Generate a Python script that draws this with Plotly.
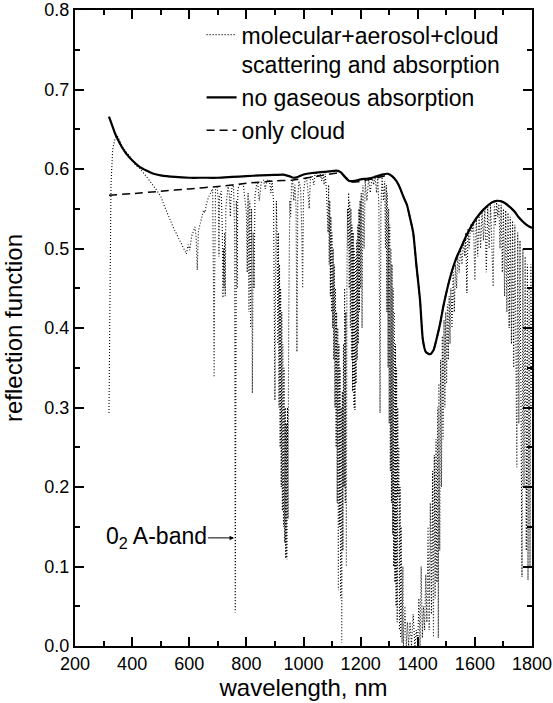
import plotly.graph_objects as go

# ---------------- data ----------------
# "no gaseous absorption" (solid)
wl_nogas = [319, 330, 340, 350, 365, 380, 400, 425, 450, 475, 500, 550, 600, 650, 700, 750, 800,
            850, 900, 930, 950, 965, 980, 1000, 1030, 1060, 1090, 1115, 1130, 1145, 1160, 1180,
            1200, 1225, 1250, 1275, 1295, 1310, 1325, 1338, 1350, 1362, 1372, 1384, 1395, 1408,
            1418, 1428, 1443, 1455, 1465, 1478, 1490, 1505, 1520, 1535, 1550, 1570, 1594, 1620,
            1642, 1660, 1677, 1695, 1710, 1723, 1740, 1752, 1765, 1780, 1793, 1800]
r_nogas = [0.666, 0.655, 0.645, 0.637, 0.627, 0.619, 0.611, 0.603, 0.598, 0.594, 0.592, 0.590,
           0.589, 0.589, 0.589, 0.590, 0.591, 0.592, 0.5925, 0.593, 0.591, 0.589, 0.590, 0.593,
           0.595, 0.596, 0.597, 0.598, 0.596, 0.590, 0.585, 0.585, 0.587, 0.588, 0.590, 0.593,
           0.594, 0.591, 0.585, 0.576, 0.565, 0.555, 0.540, 0.520, 0.480, 0.435, 0.385, 0.370,
           0.367, 0.372, 0.385, 0.405, 0.428, 0.452, 0.472, 0.488, 0.500, 0.516, 0.532, 0.545,
           0.553, 0.558, 0.560, 0.559, 0.556, 0.552, 0.546, 0.540, 0.535, 0.530, 0.527, 0.526]

# "only cloud" (dashed)
wl_cloud = [319, 400, 500, 600, 700, 800, 900, 960, 1000, 1050, 1100, 1120, 1135, 1150, 1165,
            1190, 1220, 1260, 1290, 1305, 1325, 1338, 1350, 1362, 1372, 1384, 1395, 1408, 1418,
            1428, 1443, 1455, 1465, 1478, 1490, 1505, 1520, 1535, 1550, 1570, 1594, 1620, 1642,
            1660, 1677, 1695, 1710, 1723, 1740, 1752, 1765, 1780, 1793, 1800]
r_cloud = [0.567, 0.569, 0.572, 0.575, 0.578, 0.582, 0.585, 0.586, 0.588, 0.591, 0.594, 0.595,
           0.594, 0.589, 0.584, 0.584, 0.586, 0.589, 0.592, 0.592, 0.585, 0.576, 0.565, 0.555,
           0.540, 0.520, 0.480, 0.435, 0.385, 0.370, 0.367, 0.372, 0.385, 0.405, 0.428, 0.452,
           0.472, 0.488, 0.500, 0.516, 0.532, 0.545, 0.553, 0.558, 0.560, 0.559, 0.556, 0.552,
           0.546, 0.540, 0.535, 0.530, 0.527, 0.526]

# "molecular+aerosol+cloud scattering and absorption" (dotted)
wl_full = [319, 322, 326, 332, 340, 348, 356, 366, 378, 390, 402, 414, 426, 438, 450, 462, 472,
           482, 492, 500, 510, 522, 534, 546, 556, 566, 576, 584, 590, 596, 602, 608, 614, 620,
           624, 628, 632, 638, 644, 650, 655, 660, 668, 676, 682, 685, 687, 689, 692, 698, 702,
           704, 706, 712, 716, 718, 720, 722, 724, 726, 728, 732, 736, 740, 744, 746, 750, 755,
           759, 761, 763, 765, 768, 770, 776, 782, 790, 796, 800, 803, 806, 809, 812, 815, 818,
           821, 824, 827, 830, 835, 840, 845, 848, 852, 860, 866, 872, 880, 886, 890, 895, 898,
           900, 902, 905, 908, 910, 912, 914, 916, 918, 920, 922, 924, 926, 928, 930, 932, 934,
           936, 938, 940, 942, 944, 946, 948, 950, 952, 955, 958, 962, 966, 970, 974, 977, 980,
           984, 990, 994, 997, 1000, 1005, 1010, 1015, 1020, 1024, 1030, 1036, 1040, 1046, 1052,
           1058, 1064, 1068, 1072, 1076, 1080, 1083, 1086, 1088, 1090, 1092, 1094, 1096, 1098,
           1100, 1102, 1104, 1106, 1108, 1110, 1112, 1114, 1116, 1118, 1120, 1122, 1124, 1126,
           1128, 1130, 1132, 1134, 1136, 1138, 1140, 1142, 1144, 1146, 1148, 1150, 1152, 1154,
           1156, 1158, 1160, 1162, 1164, 1166, 1168, 1170, 1172, 1174, 1176, 1178, 1180, 1182,
           1184, 1186, 1188, 1190, 1192, 1194, 1196, 1198, 1200, 1202, 1205, 1208, 1212, 1216,
           1222, 1228, 1234, 1240, 1246, 1250, 1256, 1260, 1264, 1268, 1271, 1275, 1280, 1284,
           1287, 1290, 1292, 1294, 1296, 1298, 1300, 1302, 1304, 1306, 1308, 1310, 1312, 1314,
           1316, 1318, 1320, 1322, 1324, 1326, 1328, 1330, 1331, 1334, 1336, 1338, 1340, 1342,
           1345, 1348, 1350, 1355, 1360, 1364, 1368, 1373, 1378, 1384, 1390, 1395, 1400, 1404,
           1408, 1412, 1416, 1420, 1424, 1428, 1432, 1436, 1440, 1444, 1448, 1452, 1455, 1458,
           1461, 1464, 1467, 1470, 1472, 1474, 1477, 1480, 1483, 1486, 1489, 1492, 1495, 1498,
           1501, 1504, 1507, 1510, 1513, 1516, 1520, 1524, 1528, 1532, 1536, 1540, 1545, 1550,
           1555, 1560, 1565, 1568, 1572, 1576, 1580, 1585, 1590, 1595, 1600, 1605, 1610, 1615,
           1620, 1625, 1630, 1635, 1640, 1645, 1650, 1655, 1660, 1664, 1668, 1672, 1676, 1680,
           1684, 1688, 1692, 1696, 1700, 1704, 1708, 1712, 1716, 1720, 1724, 1728, 1732, 1736,
           1740, 1744, 1747, 1750, 1754, 1758, 1762, 1765, 1768, 1772, 1776, 1780, 1784, 1786,
           1790, 1793, 1796, 1800]
r_full = [0.293, 0.45, 0.58, 0.625, 0.638, 0.642, 0.636, 0.628, 0.622, 0.617, 0.61, 0.604,
          0.601, 0.596, 0.59, 0.585, 0.58, 0.575, 0.57, 0.566, 0.556, 0.545, 0.535, 0.525,
          0.518, 0.51, 0.502, 0.497, 0.493, 0.505, 0.498, 0.515, 0.522, 0.527, 0.515, 0.473,
          0.522, 0.532, 0.54, 0.548, 0.545, 0.556, 0.565, 0.572, 0.575, 0.45, 0.338, 0.46,
          0.574, 0.577, 0.56, 0.49, 0.565, 0.572, 0.52, 0.438, 0.50, 0.45, 0.52, 0.44, 0.55,
          0.565, 0.578, 0.57, 0.54, 0.565, 0.578, 0.58, 0.52, 0.042, 0.30, 0.56, 0.45, 0.575,
          0.58, 0.582, 0.578, 0.56, 0.545, 0.47, 0.57, 0.42, 0.56, 0.40, 0.55, 0.318, 0.52,
          0.45, 0.565, 0.578, 0.582, 0.56, 0.57, 0.583, 0.586, 0.575, 0.585, 0.587, 0.57,
          0.585, 0.56, 0.42, 0.309, 0.45, 0.56, 0.5, 0.38, 0.52, 0.3, 0.48, 0.25, 0.45, 0.2,
          0.42, 0.17, 0.38, 0.15, 0.35, 0.13, 0.3, 0.11, 0.28, 0.109, 0.3, 0.16, 0.4, 0.5,
          0.56, 0.54, 0.58, 0.585, 0.56, 0.58, 0.55, 0.37, 0.56, 0.585, 0.575, 0.52, 0.45,
          0.57, 0.585, 0.59, 0.575, 0.55, 0.588, 0.592, 0.58, 0.593, 0.595, 0.59, 0.594,
          0.585, 0.596, 0.58, 0.594, 0.575, 0.55, 0.52, 0.58, 0.48, 0.56, 0.44, 0.54, 0.42,
          0.52, 0.40, 0.50, 0.36, 0.48, 0.30, 0.45, 0.25, 0.42, 0.18, 0.40, 0.07, 0.38, 0.15,
          0.35, 0.06, 0.30, 0.004, 0.32, 0.12, 0.38, 0.2, 0.45, 0.18, 0.42, 0.1, 0.45, 0.55,
          0.5, 0.57, 0.45, 0.56, 0.4, 0.55, 0.36, 0.53, 0.32, 0.52, 0.3, 0.5, 0.297, 0.49,
          0.33, 0.51, 0.36, 0.53, 0.38, 0.55, 0.42, 0.56, 0.45, 0.57, 0.40, 0.58, 0.50, 0.585,
          0.56, 0.588, 0.57, 0.59, 0.58, 0.592, 0.57, 0.592, 0.55, 0.293, 0.55, 0.59, 0.56,
          0.585, 0.5, 0.58, 0.42, 0.57, 0.35, 0.55, 0.28, 0.53, 0.22, 0.5, 0.18, 0.48, 0.14,
          0.45, 0.1, 0.42, 0.08, 0.38, 0.05, 0.35, 0.03, 0.3, 0.188, 0.25, 0.02, 0.2, 0.01,
          0.15, 0.004, 0.1, 0.0, 0.05, 0.0, 0.03, 0.0, 0.03, 0.0, 0.04, 0.0, 0.02, 0.0, 0.06,
          0.0, 0.10, 0.01, 0.05, 0.02, 0.09, 0.03, 0.15, 0.02, 0.18, 0.04, 0.22, 0.011, 0.24,
          0.06, 0.26, 0.08, 0.30, 0.01, 0.33, 0.12, 0.36, 0.2, 0.39, 0.26, 0.41, 0.3, 0.42,
          0.33, 0.43, 0.36, 0.44, 0.38, 0.45, 0.40, 0.47, 0.42, 0.48, 0.45, 0.49, 0.47, 0.50,
          0.48, 0.51, 0.49, 0.52, 0.444, 0.525, 0.50, 0.53, 0.52, 0.535, 0.46, 0.54, 0.49,
          0.545, 0.50, 0.548, 0.51, 0.55, 0.47, 0.552, 0.50, 0.555, 0.48, 0.452, 0.556, 0.53,
          0.558, 0.54, 0.556, 0.50, 0.555, 0.47, 0.55, 0.44, 0.548, 0.42, 0.545, 0.40, 0.54,
          0.38, 0.535, 0.35, 0.53, 0.30, 0.225, 0.52, 0.28, 0.51, 0.15, 0.087, 0.50, 0.2,
          0.49, 0.12, 0.48, 0.083, 0.45, 0.1, 0.48, 0.3]

x_ticks = [200, 400, 600, 800, 1000, 1200, 1400, 1600, 1800]
y_ticks = [0.0, 0.1, 0.2, 0.3, 0.4, 0.5, 0.6, 0.7, 0.8]

FONT = "Liberation Sans, Arial, Helvetica, sans-serif"

fig = go.Figure()
fig.add_trace(go.Scatter(
    x=wl_full, y=r_full, mode="lines",
    name="molecular+aerosol+cloud<br>scattering and absorption",
    line=dict(color="black", width=1.1, dash="1px,2px")))
fig.add_trace(go.Scatter(
    x=wl_nogas, y=r_nogas, mode="lines", name="no gaseous absorption",
    line=dict(color="black", width=2.2, shape="spline", smoothing=0.6)))
fig.add_trace(go.Scatter(
    x=wl_cloud, y=r_cloud, mode="lines", name="only cloud",
    line=dict(color="black", width=1.5, dash="8px,5px", shape="spline", smoothing=0.6)))

axis_common = dict(
    showline=True, linecolor="black", linewidth=2, mirror="allticks",
    ticks="inside", ticklen=9, tickwidth=2, tickcolor="black",
    showgrid=False, zeroline=False, automargin=False,
    tickfont=dict(family=FONT, size=18, color="black"),
)

fig.update_xaxes(
    range=[200, 1800], tickvals=x_ticks, ticktext=[str(v) for v in x_ticks],
    minor=dict(ticks="inside", ticklen=5, tickwidth=1.5, tickcolor="black", dtick=100),
    title=dict(text="wavelength, nm", font=dict(family=FONT, size=24, color="black"), standoff=0),
    **axis_common)
fig.update_yaxes(
    range=[0, 0.8], tickvals=y_ticks, ticktext=[f"{v:.1f}" for v in y_ticks],
    minor=dict(ticks="inside", ticklen=5, tickwidth=1.5, tickcolor="black", dtick=0.05),
    title=dict(text="reflection function", font=dict(family=FONT, size=24, color="black")),
    **axis_common)

fig.add_annotation(
    x=757, y=0.136, xref="x", yref="y",
    text="0<sub>2</sub> A-band", showarrow=True, ax=-78, ay=0,
    arrowhead=2, arrowsize=0.9, arrowwidth=1, arrowcolor="black",
    font=dict(family=FONT, size=23, color="black"))

fig.update_layout(
    width=553, height=703,
    margin=dict(l=75, r=21, t=10, b=57),
    paper_bgcolor="white", plot_bgcolor="white",
    font=dict(family=FONT, color="black"),
    legend=dict(x=0.277, y=0.995, xanchor="left", yanchor="top",
                bgcolor="rgba(0,0,0,0)", borderwidth=0,
                font=dict(family=FONT, size=23, color="black"),
                valign="top", tracegroupgap=0),
)

fig.write_html("out.html")
